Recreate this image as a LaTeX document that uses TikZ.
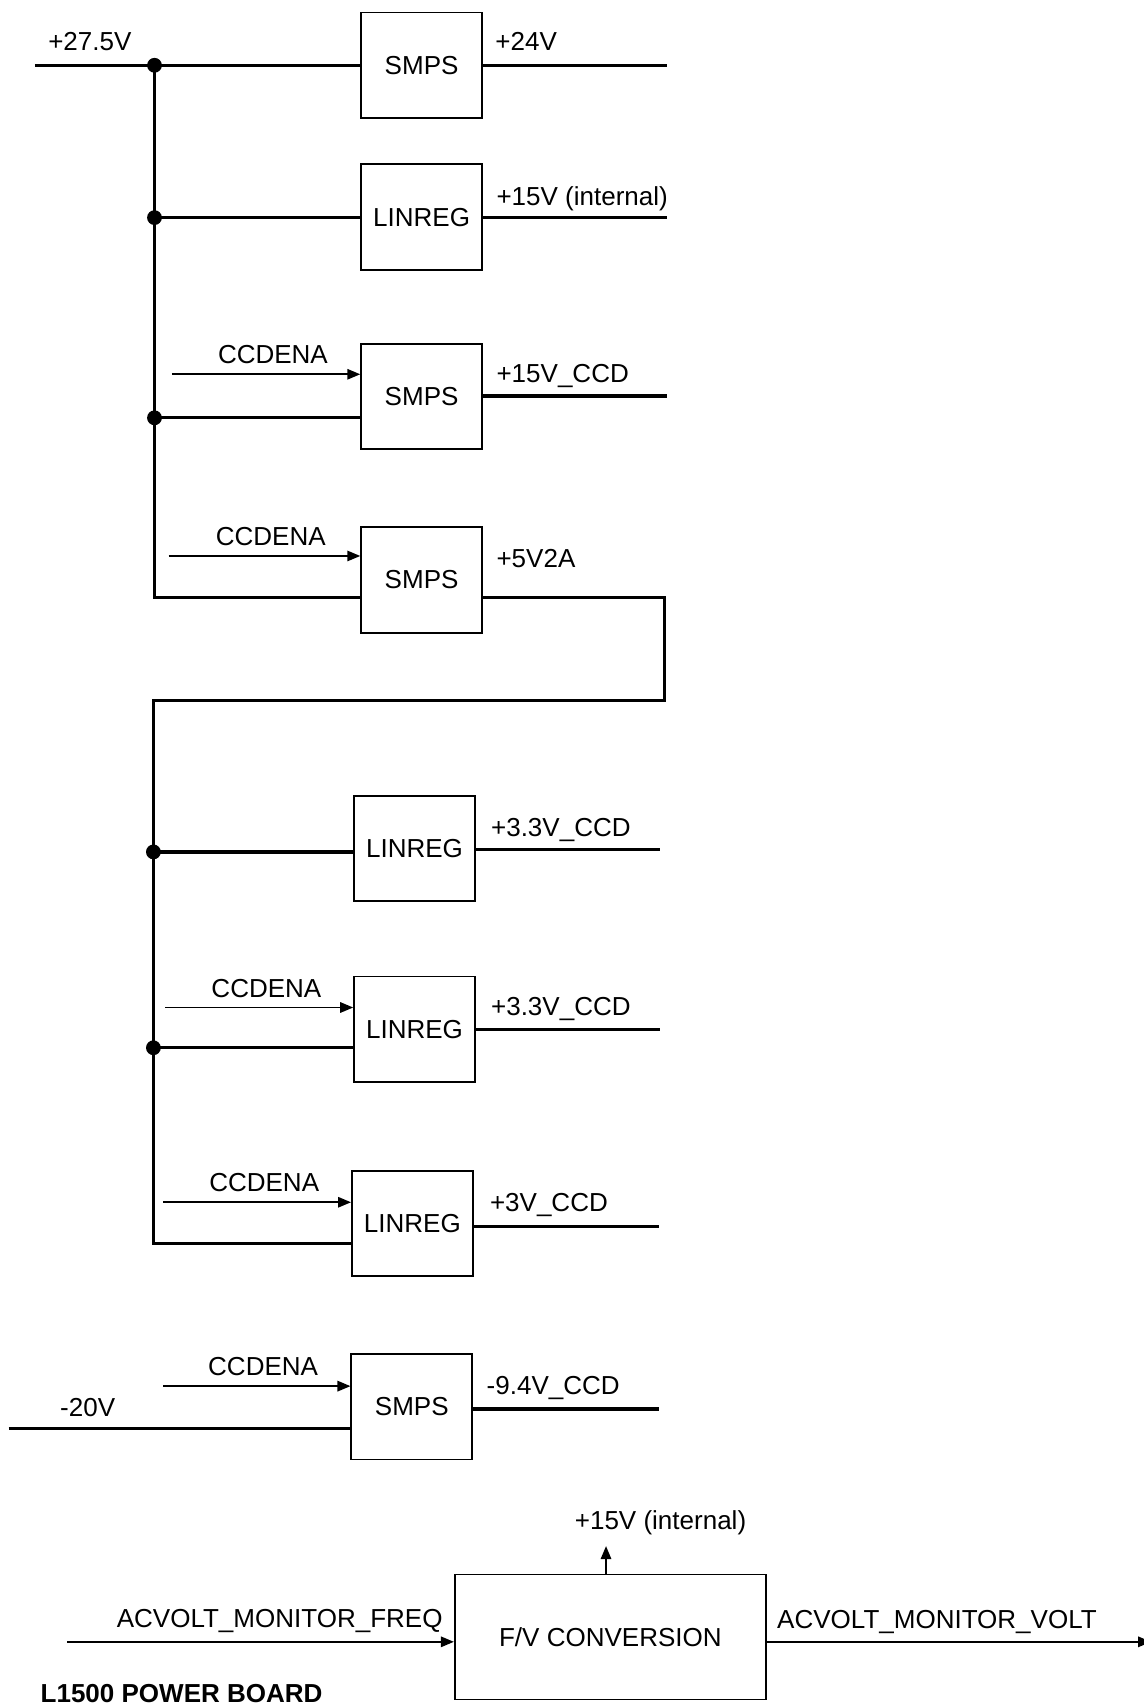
\documentclass[tikz,border=0pt]{standalone}
\usepackage{fontspec}
\setmainfont{Liberation Sans}
\usetikzlibrary{arrows.meta,calc}
\begin{document}
\begin{tikzpicture}[x=0.54375pt,y=-0.54375pt,
  every node/.style={font=\fontsize{13pt}{15pt}\selectfont},
  blk/.style={draw,line width=0.9pt,minimum width=60.4pt,minimum height=52.7pt,inner sep=0pt},
  wire/.style={line width=1.6pt},
  sig/.style={line width=0.9pt,-{Triangle[length=6.5pt,width=5.2pt]}},
  lbl/.style={inner sep=0pt,anchor=base west},
  dot/.style={circle,fill,inner sep=0pt,minimum size=7.4pt}]
\useasboundingbox (0,0) rectangle (1051,1568);

% blocks
\node[blk] (b1) at (387.5,60) {SMPS};
\node[blk] (b2) at (387.5,199.5) {LINREG};
\node[blk] (b3) at (387.5,364.5) {SMPS};
\node[blk] (b4) at (387.5,533) {SMPS};
\node[blk] (b5) at (381,780) {LINREG};
\node[blk] (b6) at (381,946) {LINREG};
\node[blk] (b7) at (379,1124.5) {LINREG};
\node[blk] (b8) at (378.5,1293) {SMPS};
\node[draw,line width=0.9pt,minimum width=155.5pt,minimum height=62.5pt,inner sep=0pt] (fv) at (561,1504.5) {\raisebox{-2pt}{F/V CONVERSION}};

% coordinates
\coordinate (in275) at (32,60);
\coordinate (j1) at (142,60);
\coordinate (j2) at (142,200);
\coordinate (j3) at (142,384);
\coordinate (c4) at (142,549);
\coordinate (r4) at (611,549);
\coordinate (r4b) at (611,644);
\coordinate (c5) at (141,644);
\coordinate (j5) at (141,783);
\coordinate (j6) at (141,963);
\coordinate (c7) at (141,1143);
\coordinate (in20) at (8,1313);

\coordinate (o1) at (613,60);
\coordinate (o2) at (613,200);
\coordinate (o3) at (613,364);
\coordinate (o5) at (607,781);
\coordinate (o6) at (607,946);
\coordinate (o7) at (606,1127);
\coordinate (o8) at (606,1295);

\coordinate (e3) at (158,344);
\coordinate (e4) at (155,511);
\coordinate (e6) at (152,926);
\coordinate (e7) at (150,1105);
\coordinate (e8) at (150,1274);
\coordinate (fin) at (62,1509);
\coordinate (fout) at (1058,1509);
\coordinate (up) at (557,1421);

% upper bus
\draw[wire] (in275) -- (b1.west);
\draw[wire] (j1) -- (c4) -- (c4 -| b4.west);
\draw[wire] (j2) -- (j2 -| b2.west);
\draw[wire] (j3) -- (j3 -| b3.west);
% +5V2A feed to lower bus
\draw[wire] (c4 -| b4.east) -- (r4) -- (r4b) -- (c5) -- (c7) -- (c7 -| b7.west);
\draw[wire] (j5) -- (j5 -| b5.west);
\draw[wire] (j6) -- (j6 -| b6.west);
\draw[wire] (in20) -- (in20 -| b8.west);

% outputs
\draw[wire] (b1.east) -- (o1);
\draw[wire] (o2 -| b2.east) -- (o2);
\draw[wire] (o3 -| b3.east) -- (o3);
\draw[wire] (o5 -| b5.east) -- (o5);
\draw[wire] (o6 -| b6.east) -- (o6);
\draw[wire] (o7 -| b7.east) -- (o7);
\draw[wire] (o8 -| b8.east) -- (o8);

% enables
\draw[sig] (e3) -- (e3 -| b3.west);
\draw[sig] (e4) -- (e4 -| b4.west);
\draw[sig] (e6) -- (e6 -| b6.west);
\draw[sig] (e7) -- (e7 -| b7.west);
\draw[sig] (e8) -- (e8 -| b8.west);
\draw[sig] (fin) -- (fin -| fv.west);
\draw[sig] (fin -| fv.east) -- (fout);
\draw[sig] (up |- fv.north) -- (up);

% junction dots
\node[dot] (d1) at (j1) {};
\node[dot] (d2) at (j2) {};
\node[dot] (d3) at (j3) {};
\node[dot] (d5) at (j5) {};
\node[dot] (d6) at (j6) {};

% labels
\node[lbl] (t275) at (44,46.5) {+27.5V};
\node[lbl] (t24) at (455,46.5) {+24V};
\node[lbl] (t15) at (456,189) {+15V (internal)};
\node[lbl] (tc3) at (200,334.5) {CCDENA};
\node[lbl] (t15c) at (456,351.5) {+15V\_CCD};
\node[lbl] (tc4) at (198,501.5) {CCDENA};
\node[lbl] (t5v) at (456,521.5) {+5V2A};
\node[lbl] (t33a) at (451,768.5) {+3.3V\_CCD};
\node[lbl] (tc6) at (194,916.5) {CCDENA};
\node[lbl] (t33b) at (451,933.5) {+3.3V\_CCD};
\node[lbl] (tc7) at (192,1095.5) {CCDENA};
\node[lbl] (t3v) at (450,1113.5) {+3V\_CCD};
\node[lbl] (tc8) at (191,1264.5) {CCDENA};
\node[lbl] (t20) at (55,1301.5) {-20V};
\node[lbl] (t94) at (447,1281.5) {-9.4V\_CCD};
\node[lbl] (t15b) at (528,1405.5) {+15V (internal)};
\node[lbl] (tfreq) at (107,1495.5) {ACVOLT\_MONITOR\_FREQ};
\node[lbl] (tvolt) at (714,1496.5) {ACVOLT\_MONITOR\_VOLT};
\node[lbl,font=\fontsize{13pt}{15pt}\selectfont\bfseries] (title) at (37,1565) {L1500 POWER BOARD};
\end{tikzpicture}
\end{document}
